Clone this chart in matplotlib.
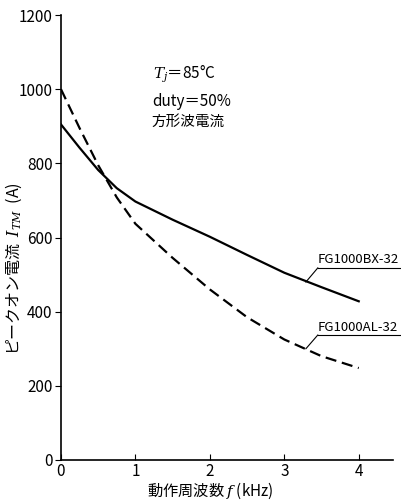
import numpy as np
import matplotlib
matplotlib.use("Agg")
import matplotlib.pyplot as plt

# =====================================================================
# data
# =====================================================================

freq_khz = [0, 0.25, 0.5, 0.75, 1.0, 1.5, 2.0, 2.5, 3.0, 3.5, 4.0]
itm_bx = [905, 842, 782, 733, 697, 648, 602, 553, 505, 466, 428]
itm_al = [1000, 895, 795, 708, 637, 545, 460, 385, 325, 280, 248]

x_ticks = [0, 1, 2, 3, 4]
y_ticks = [0, 200, 400, 600, 800, 1000, 1200]

label_bx = "FG1000BX-32"
label_al = "FG1000AL-32"

# =====================================================================
# figure
# =====================================================================

plt.rcParams['font.family'] = ['Liberation Sans Narrow', 'Noto Sans CJK JP', 'DejaVu Sans']
plt.rcParams['mathtext.fontset'] = 'dejavuserif'

fig = plt.figure(figsize=(4.01, 5.00), dpi=100)
ax = fig.add_axes([0.152, 0.08, 0.828, 0.89])

ax.plot(freq_khz, itm_bx, color='black', lw=1.6)
ax.plot(freq_khz, itm_al, color='black', lw=1.6, dashes=(5, 2.6))

ax.set_xlim(0, 4.46)
ax.set_ylim(0, 1200)
ax.set_xticks(x_ticks)
ax.set_yticks(y_ticks)
ax.spines['top'].set_visible(False)
ax.spines['right'].set_visible(False)
ax.spines['left'].set_linewidth(1.2)
ax.spines['bottom'].set_linewidth(1.2)
ax.tick_params(axis='x', direction='in', length=4, labelsize=11, pad=2)
ax.tick_params(axis='y', direction='out', length=4, labelsize=11, pad=2)

ax.set_xlabel("動作周波数 $f$ (kHz)", fontsize=11)
ax.xaxis.set_label_coords(0.45, -0.047)
ax.set_ylabel("ピークオン電流  $I_{TM}$  (A)", fontsize=11.5)
ax.yaxis.set_label_coords(-0.112, 0.43)

# conditions
ax.text(1.23, 1040, "$T_j$＝85°C", fontsize=11, ha='left', va='center')
ax.text(1.22, 968, "duty＝50%", fontsize=11, ha='left', va='center')
ax.text(1.22, 912, "方形波電流", fontsize=10.5, ha='left', va='center')

# part labels with leader + underline
for y_pt, y_line, txt in [(480, 518, label_bx), (300, 337, label_al)]:
    ax.plot([3.29, 3.45], [y_pt, y_line], color='black', lw=0.8, clip_on=False)
    ax.plot([3.45, 4.56], [y_line, y_line], color='black', lw=0.8, clip_on=False)
    ax.text(3.45, y_line + 4, txt, fontsize=9.5, ha='left', va='bottom')

fig.savefig("out.png", dpi=100)
